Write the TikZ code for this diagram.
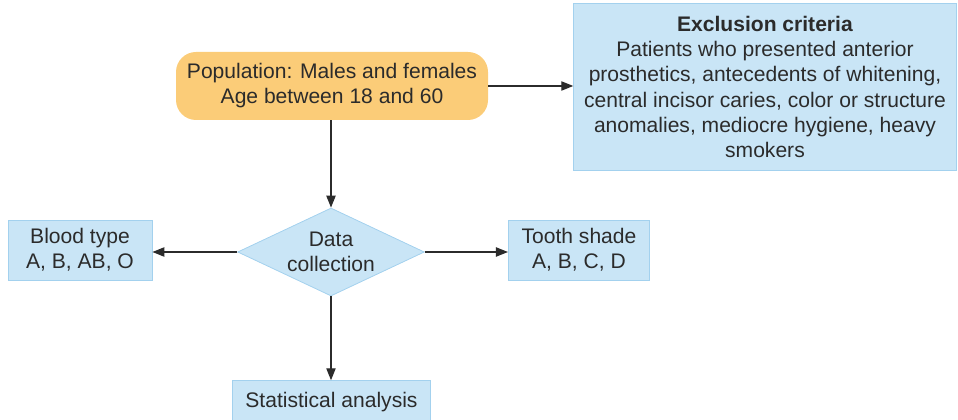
\documentclass[tikz,border=0pt]{standalone}
\usepackage{fontspec}
\setmainfont{Liberation Sans}
\usetikzlibrary{arrows.meta,shapes.geometric}
\definecolor{popfill}{HTML}{FBCC78}
\definecolor{boxfill}{HTML}{C9E5F6}
\definecolor{boxline}{HTML}{A3D1EE}
\definecolor{inkline}{HTML}{2B2B2B}

\begin{document}
\begin{tikzpicture}[x=0.75pt,y=-0.75pt,
  every node/.style={font=\fontsize{15.8}{18.8}\selectfont,text=inkline,align=center},
  popbox/.style={fill=popfill,rounded corners=15pt,minimum width=234pt,minimum height=51pt},
  bluebox/.style={fill=boxfill,draw=boxline,line width=0.6pt},
  flowarrow/.style={draw=inkline,line width=0.9pt,-{Triangle[length=9pt,width=7pt]}}]
  \useasboundingbox (0,0) rectangle (958,420);
  \node[popbox] (pop) at (332,86) {Population: Males and females\\Age between 18 and 60};
  \node[bluebox,minimum width=287pt,minimum height=125pt] (excl) at (765,87)
    {\textbf{Exclusion criteria}\\Patients who presented anterior\\prosthetics, antecedents of whitening,\\central incisor caries, color or structure\\anomalies, mediocre hygiene, heavy\\smokers};
  \node[bluebox,diamond,aspect=2.1,minimum width=140pt,minimum height=66pt,inner sep=0pt] (data) at (331,252) {Data\\collection};
  \node[bluebox,minimum width=108pt,minimum height=45pt] (blood) at (80,250) {Blood type\\A, B, AB, O};
  \node[bluebox,minimum width=106pt,minimum height=45pt] (tooth) at (579,250) {Tooth shade\\A, B, C, D};
  \node[bluebox,minimum width=148pt,minimum height=32pt] (stat) at (331.5,402) {Statistical analysis};
  \draw[flowarrow] (pop.east) -- (excl.west |- pop.east);
  \draw[flowarrow] (pop.south -| data.north) -- (data.north);
  \draw[flowarrow] (data.west) -- (blood.east |- data.west);
  \draw[flowarrow] (data.east) -- (tooth.west |- data.east);
  \draw[flowarrow] (data.south) -- (data.south |- stat.north);
\end{tikzpicture}
\end{document}
